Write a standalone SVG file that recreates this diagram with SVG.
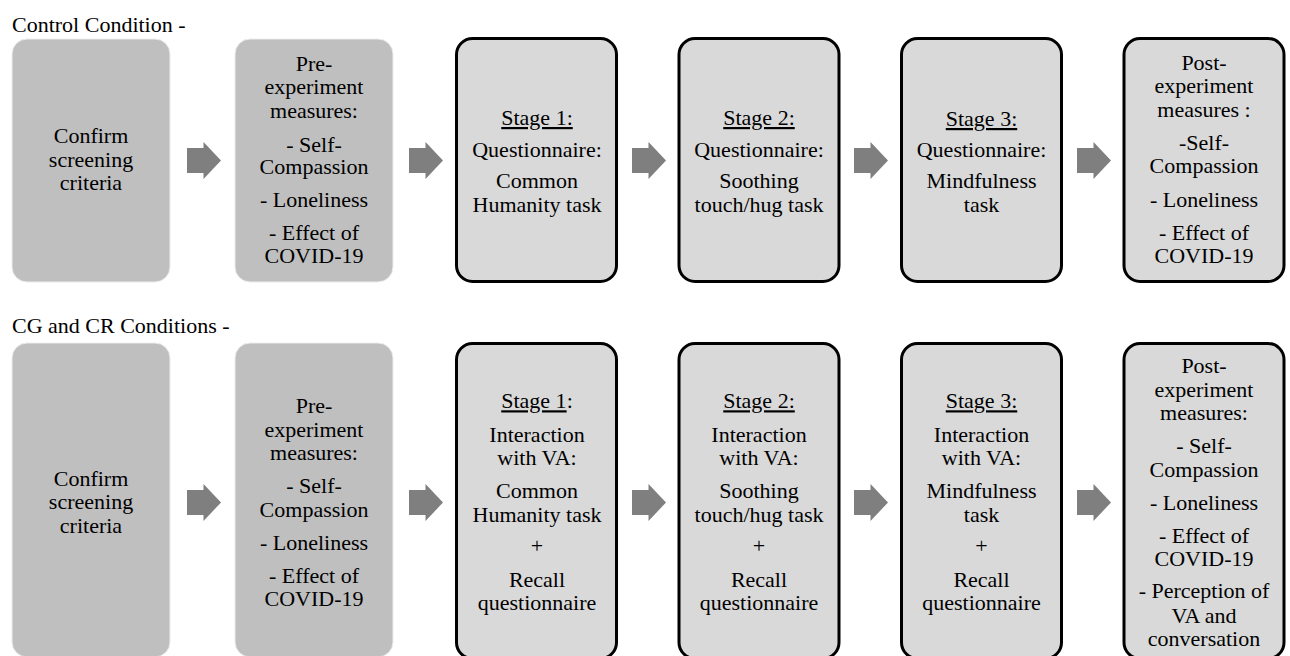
<svg xmlns="http://www.w3.org/2000/svg" width="1290" height="656" viewBox="0 0 1290 656">
<defs>
<path id="arr" fill="#7f7f7f" d="M0,6 H16.5 V0 L34,18.5 L16.5,37 V31 H0 Z"/>
<rect id="gt" width="158" height="243" rx="15" fill="#bfbfbf" stroke="#ececec" stroke-width="1"/>
<rect id="gb" width="158" height="314" rx="15" fill="#bfbfbf" stroke="#ececec" stroke-width="1"/>
<rect id="st" width="160" height="243" rx="16" fill="#d9d9d9" stroke="#000" stroke-width="3"/>
<rect id="sb" width="160" height="315" rx="16" fill="#d9d9d9" stroke="#000" stroke-width="3"/>
</defs>
<text x="12" y="32" font-family="Liberation Serif, Times New Roman, serif" font-size="22">Control Condition -</text>
<text x="12" y="333" font-family="Liberation Serif, Times New Roman, serif" font-size="22">CG and CR Conditions -</text>

<g id="connectors">
<use href="#arr" x="187" y="142"/>
<use href="#arr" x="409" y="142"/>
<use href="#arr" x="632" y="142"/>
<use href="#arr" x="854" y="142"/>
<use href="#arr" x="1077" y="142"/>
<use href="#arr" x="187" y="484"/>
<use href="#arr" x="409" y="484"/>
<use href="#arr" x="632" y="484"/>
<use href="#arr" x="854" y="484"/>
<use href="#arr" x="1077" y="484"/>
</g>

<g font-family="Liberation Serif, Times New Roman, serif" font-size="22" text-anchor="middle" fill="#000">
<g id="t_confirm">
<use href="#gt" x="12" y="39"/>
<text><tspan x="91" y="143">Confirm</tspan><tspan x="91" y="166.5">screening</tspan><tspan x="91" y="190">criteria</tspan></text>
</g>
<g id="t_pre">
<use href="#gt" x="235" y="39"/>
<text><tspan x="314" y="71">Pre-</tspan><tspan x="314" y="94.3">experiment</tspan><tspan x="314" y="117.7">measures:</tspan><tspan x="314" y="151.7">- Self-</tspan><tspan x="314" y="174.3">Compassion</tspan><tspan x="314" y="207.3">- Loneliness</tspan><tspan x="314" y="240">- Effect of</tspan><tspan x="314" y="263.3">COVID-19</tspan></text>
</g>
<g id="t_stage1">
<use href="#st" x="456.5" y="38.5"/>
<text><tspan x="537" y="125" text-decoration="underline">Stage 1:</tspan><tspan x="537" y="156.7">Questionnaire:</tspan><tspan x="537" y="188.3">Common</tspan><tspan x="537" y="211.7">Humanity task</tspan></text>
</g>
<g id="t_stage2">
<use href="#st" x="679" y="38.5"/>
<text><tspan x="759" y="125" text-decoration="underline">Stage 2:</tspan><tspan x="759" y="156.7">Questionnaire:</tspan><tspan x="759" y="188.3">Soothing</tspan><tspan x="759" y="211.7">touch/hug task</tspan></text>
</g>
<g id="t_stage3">
<use href="#st" x="901.5" y="38.5"/>
<text><tspan x="981.5" y="126" text-decoration="underline">Stage 3:</tspan><tspan x="981.5" y="156.7">Questionnaire:</tspan><tspan x="981.5" y="188">Mindfulness</tspan><tspan x="981.5" y="211.7">task</tspan></text>
</g>
<g id="t_post">
<use href="#st" x="1124" y="38.5"/>
<text><tspan x="1204" y="70">Post-</tspan><tspan x="1204" y="93.3">experiment</tspan><tspan x="1204" y="117.3">measures :</tspan><tspan x="1204" y="150">-Self-</tspan><tspan x="1204" y="173.3">Compassion</tspan><tspan x="1204" y="206.7">- Loneliness</tspan><tspan x="1204" y="240">- Effect of</tspan><tspan x="1204" y="263.3">COVID-19</tspan></text>
</g>

<g id="b_confirm">
<use href="#gb" x="12" y="343"/>
<text><tspan x="91" y="486">Confirm</tspan><tspan x="91" y="509.3">screening</tspan><tspan x="91" y="532.7">criteria</tspan></text>
</g>
<g id="b_pre">
<use href="#gb" x="235" y="343"/>
<text><tspan x="314" y="413.3">Pre-</tspan><tspan x="314" y="436.7">experiment</tspan><tspan x="314" y="460">measures:</tspan><tspan x="314" y="493.3">- Self-</tspan><tspan x="314" y="517.3">Compassion</tspan><tspan x="314" y="550">- Loneliness</tspan><tspan x="314" y="583.3">- Effect of</tspan><tspan x="314" y="606">COVID-19</tspan></text>
</g>
<g id="b_stage1">
<use href="#sb" x="456.5" y="343.5"/>
<text><tspan x="537" y="408.3"><tspan text-decoration="underline">Stage 1</tspan>:</tspan><tspan x="537" y="441.7">Interaction</tspan><tspan x="537" y="465">with VA:</tspan><tspan x="537" y="498.3">Common</tspan><tspan x="537" y="521.7">Humanity task</tspan><tspan x="537" y="553.3">+</tspan><tspan x="537" y="586.7">Recall</tspan><tspan x="537" y="610">questionnaire</tspan></text>
</g>
<g id="b_stage2">
<use href="#sb" x="679" y="343.5"/>
<text><tspan x="759" y="408.3" text-decoration="underline">Stage 2:</tspan><tspan x="759" y="441.7">Interaction</tspan><tspan x="759" y="465">with VA:</tspan><tspan x="759" y="498.3">Soothing</tspan><tspan x="759" y="521.7">touch/hug task</tspan><tspan x="759" y="553.3">+</tspan><tspan x="759" y="586.7">Recall</tspan><tspan x="759" y="610">questionnaire</tspan></text>
</g>
<g id="b_stage3">
<use href="#sb" x="901.5" y="343.5"/>
<text><tspan x="981.5" y="408.3" text-decoration="underline">Stage 3:</tspan><tspan x="981.5" y="441.7">Interaction</tspan><tspan x="981.5" y="465">with VA:</tspan><tspan x="981.5" y="498.3">Mindfulness</tspan><tspan x="981.5" y="521.7">task</tspan><tspan x="981.5" y="553.3">+</tspan><tspan x="981.5" y="586.7">Recall</tspan><tspan x="981.5" y="610">questionnaire</tspan></text>
</g>
<g id="b_post">
<use href="#sb" x="1124" y="343.5"/>
<text><tspan x="1204" y="373.3">Post-</tspan><tspan x="1204" y="396.7">experiment</tspan><tspan x="1204" y="420">measures:</tspan><tspan x="1204" y="453.3">- Self-</tspan><tspan x="1204" y="476.7">Compassion</tspan><tspan x="1204" y="510">- Loneliness</tspan><tspan x="1204" y="542.7">- Effect of</tspan><tspan x="1204" y="566">COVID-19</tspan><tspan x="1204" y="598.3">- Perception of</tspan><tspan x="1204" y="622.7">VA and</tspan><tspan x="1204" y="646">conversation</tspan></text>
</g>
</g>
</svg>
